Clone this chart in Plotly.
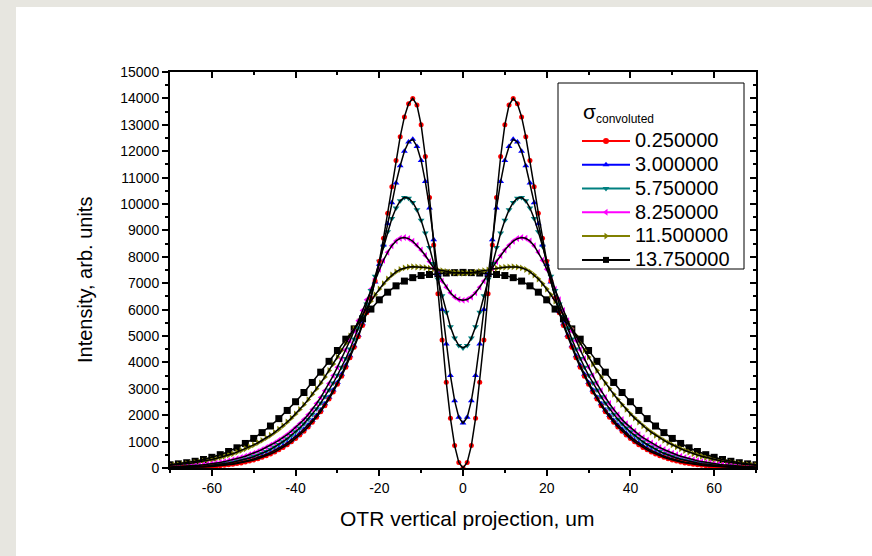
import plotly.graph_objects as go

# ---------------- data ----------------
X_FINE = list(range(-70, 71))        # 1 um grid
X_COARSE = list(range(-70, 71, 2))   # 2 um grid (sigma = 13.75 series)

SIGMA_LABELS = ["0.250000", "3.000000", "5.750000", "8.250000", "11.500000", "13.750000"]

# sigma = 0.25  (x = -70..-1 and x = 0..70)
RED_LEFT = [9, 11, 13, 16, 20, 25, 30, 36, 43, 51,
            61, 73, 87, 103, 121, 142, 166, 194, 226, 262,
            303, 350, 403, 463, 530, 605, 688, 780, 880, 990,
            1115, 1250, 1395, 1555, 1730, 1920, 2130, 2360, 2610, 2880,
            3170, 3480, 3820, 4180, 4570, 4970, 5400, 5880, 6430, 7080,
            7830, 8700, 9650, 10650, 11650, 12550, 13300, 13800, 14000, 13750,
            13000, 11800, 10250, 8450, 6600, 4850, 3250, 1880, 850, 210]
RED_RIGHT = [0, 210, 850, 1880, 3250, 4850, 6600, 8450, 10250, 11800,
             13000, 13750, 14000, 13800, 13300, 12550, 11650, 10650, 9650, 8700,
             7830, 7080, 6430, 5880, 5400, 4970, 4570, 4180, 3820, 3480,
             3170, 2880, 2610, 2360, 2130, 1920, 1730, 1555, 1395, 1250,
             1115, 990, 880, 780, 688, 605, 530, 463, 403, 350,
             303, 262, 226, 194, 166, 142, 121, 103, 87, 73,
             61, 51, 43, 36, 30, 25, 20, 16, 13, 11, 9]

# sigma = 3.0
BLUE_LEFT = [12, 14, 17, 21, 26, 31, 37, 44, 52, 62,
             74, 87, 102, 120, 140, 163, 190, 221, 256, 295,
             340, 390, 447, 510, 580, 658, 744, 838, 942, 1055,
             1180, 1315, 1465, 1625, 1800, 1990, 2200, 2430, 2680, 2950,
             3240, 3550, 3890, 4250, 4630, 5030, 5460, 5930, 6460, 7050,
             7720, 8450, 9250, 10050, 10800, 11450, 12000, 12350, 12450, 12180,
             11650, 10850, 9850, 8650, 7350, 6000, 4700, 3500, 2550, 1920]
BLUE_RIGHT = [1700, 1920, 2550, 3500, 4700, 6000, 7350, 8650, 9850, 10850,
              11650, 12180, 12450, 12350, 12000, 11450, 10800, 10050, 9250, 8450,
              7720, 7050, 6460, 5930, 5460, 5030, 4630, 4250, 3890, 3550,
              3240, 2950, 2680, 2430, 2200, 1990, 1800, 1625, 1465, 1315,
              1180, 1055, 942, 838, 744, 658, 580, 510, 447, 390,
              340, 295, 256, 221, 190, 163, 140, 120, 102, 87,
              74, 62, 52, 44, 37, 31, 26, 21, 17, 14, 12]

# sigma = 5.75
TEAL_LEFT = [18, 22, 26, 31, 37, 44, 52, 62, 73, 86,
             101, 119, 139, 162, 188, 218, 251, 289, 331, 379,
             432, 491, 556, 628, 707, 795, 890, 995, 1110, 1235,
             1370, 1515, 1675, 1850, 2040, 2240, 2460, 2700, 2950, 3220,
             3510, 3820, 4150, 4510, 4890, 5300, 5740, 6210, 6720, 7260,
             7830, 8400, 8950, 9450, 9850, 10120, 10250, 10220, 10060, 9780,
             9380, 8900, 8350, 7750, 7150, 6520, 5900, 5350, 4920, 4640]
TEAL_RIGHT = [4550, 4640, 4920, 5350, 5900, 6520, 7150, 7750, 8350, 8900,
              9380, 9780, 10060, 10220, 10250, 10120, 9850, 9450, 8950, 8400,
              7830, 7260, 6720, 6210, 5740, 5300, 4890, 4510, 4150, 3820,
              3510, 3220, 2950, 2700, 2460, 2240, 2040, 1850, 1675, 1515,
              1370, 1235, 1110, 995, 890, 795, 707, 628, 556, 491,
              432, 379, 331, 289, 251, 218, 188, 162, 139, 119,
              101, 86, 73, 62, 52, 44, 37, 31, 26, 22, 18]

# sigma = 8.25
MAGENTA_LEFT = [39, 45, 52, 60, 69, 80, 93, 107, 123, 141,
                162, 186, 212, 242, 275, 311, 352, 397, 447, 502,
                562, 628, 700, 775, 860, 950, 1050, 1150, 1265, 1390,
                1530, 1680, 1840, 2020, 2220, 2440, 2670, 2930, 3200, 3500,
                3820, 4140, 4480, 4830, 5200, 5580, 5970, 6370, 6770, 7160,
                7530, 7870, 8170, 8420, 8600, 8700, 8730, 8690, 8590, 8440,
                8260, 8050, 7820, 7580, 7330, 7080, 6850, 6640, 6480, 6380]
MAGENTA_RIGHT = [6350, 6380, 6480, 6640, 6850, 7080, 7330, 7580, 7820, 8050,
                 8260, 8440, 8590, 8690, 8730, 8700, 8600, 8420, 8170, 7870,
                 7530, 7160, 6770, 6370, 5970, 5580, 5200, 4830, 4480, 4140,
                 3820, 3500, 3200, 2930, 2670, 2440, 2220, 2020, 1840, 1680,
                 1530, 1390, 1265, 1150, 1050, 950, 860, 775, 700, 628,
                 562, 502, 447, 397, 352, 311, 275, 242, 212, 186,
                 162, 141, 123, 107, 93, 80, 69, 60, 52, 45, 39]

# sigma = 11.5
OLIVE_LEFT = [100, 113, 128, 144, 162, 183, 206, 231, 259, 290,
              323, 360, 400, 443, 490, 540, 600, 665, 730, 800,
              875, 957, 1045, 1140, 1240, 1350, 1470, 1600, 1740, 1890,
              2050, 2220, 2400, 2590, 2790, 3000, 3220, 3450, 3690, 3940,
              4200, 4460, 4730, 5000, 5270, 5540, 5810, 6070, 6320, 6560,
              6780, 6980, 7160, 7310, 7430, 7520, 7580, 7610, 7620, 7615,
              7605, 7590, 7565, 7535, 7505, 7475, 7445, 7420, 7400, 7385]
OLIVE_RIGHT = [7380, 7385, 7400, 7420, 7445, 7475, 7505, 7535, 7565, 7590,
               7605, 7615, 7620, 7610, 7580, 7520, 7430, 7310, 7160, 6980,
               6780, 6560, 6320, 6070, 5810, 5540, 5270, 5000, 4730, 4460,
               4200, 3940, 3690, 3450, 3220, 3000, 2790, 2590, 2400, 2220,
               2050, 1890, 1740, 1600, 1470, 1350, 1240, 1140, 1045, 957,
               875, 800, 730, 665, 600, 540, 490, 443, 400, 360,
               323, 290, 259, 231, 206, 183, 162, 144, 128, 113, 100]

# sigma = 13.75 (2 um grid: x = -70..-2 and x = 0..70)
BLACK_LEFT = [122, 157, 200, 255, 322, 405, 505, 625, 765, 930,
              1120, 1340, 1590, 1870, 2180, 2510, 2860, 3240, 3630, 4040,
              4450, 4880, 5270, 5650, 6020, 6370, 6660, 6900, 7080, 7210,
              7290, 7330, 7360, 7385, 7400]
BLACK_RIGHT = [7410, 7400, 7385, 7360, 7330, 7290, 7210, 7080, 6900, 6660,
               6370, 6020, 5650, 5270, 4880, 4450, 4040, 3630, 3240, 2860,
               2510, 2180, 1870, 1590, 1340, 1120, 930, 765, 625, 505,
               405, 322, 255, 200, 157, 122]

X_TICKS = [-60, -40, -20, 0, 20, 40, 60]
X_TICK_TEXT = ["-60", "-40", "-20", "0", "20", "40", "60"]

# ---------------- styling ----------------
COLORS = ["#ff0000", "#0000ff", "#008080", "#ff00ff", "#808000", "#000000"]
SYMBOLS = ["circle", "triangle-up", "triangle-down", "triangle-left", "triangle-right", "square"]
MSIZES = [5, 6, 6, 6, 6, 7]
FONT = "Liberation Sans, Arial, sans-serif"

series = [
    (X_FINE, RED_LEFT + RED_RIGHT),
    (X_FINE, BLUE_LEFT + BLUE_RIGHT),
    (X_FINE, TEAL_LEFT + TEAL_RIGHT),
    (X_FINE, MAGENTA_LEFT + MAGENTA_RIGHT),
    (X_FINE, OLIVE_LEFT + OLIVE_RIGHT),
    (X_COARSE, BLACK_LEFT + BLACK_RIGHT),
]
for xs, ys in series:
    assert len(xs) == len(ys)

fig = go.Figure()

# markers (black series at the bottom, red on top)
for i in reversed(range(len(series))):
    xs, ys = series[i]
    fig.add_trace(go.Scatter(
        x=xs, y=ys, mode="markers", showlegend=False, hoverinfo="skip",
        marker=dict(symbol=SYMBOLS[i], size=MSIZES[i], color=COLORS[i], line=dict(width=0)),
    ))
# black connecting lines drawn on top of the markers
for i in reversed(range(len(series))):
    xs, ys = series[i]
    fig.add_trace(go.Scatter(
        x=xs, y=ys, mode="lines", showlegend=False, hoverinfo="skip",
        line=dict(color="black", width=1.5),
    ))
# legend entries
for i, lab in enumerate(SIGMA_LABELS):
    fig.add_trace(go.Scatter(
        x=[None], y=[None], mode="lines+markers",
        name="<span style='font-size:20px'>" + lab + "</span>",
        line=dict(color=COLORS[i], width=2),
        marker=dict(symbol=SYMBOLS[i], size=6, color=COLORS[i]),
    ))
# carrier for the mirrored top/right axes
fig.add_trace(go.Scatter(x=[None], y=[None], xaxis="x2", yaxis="y2",
                         showlegend=False, hoverinfo="skip"))

tickfont = dict(family=FONT, size=14, color="black")
common = dict(showline=True, linecolor="black", linewidth=2, showgrid=False,
              zeroline=False, tickcolor="black", tickwidth=2, ticklen=6)

PX_L, PX_R, PX_T, PX_B = 170, 756, 72, 468
W, H = PX_R - PX_L, PX_B - PX_T


def px_x(p):
    return (p - PX_L) / W


def px_y(p):
    return (PX_B - p) / H


fig.update_layout(
    width=872, height=556, autosize=False,
    margin=dict(l=PX_L, r=872 - PX_R, t=PX_T, b=556 - PX_B),
    paper_bgcolor="#e7e6e0", plot_bgcolor="white",
    font=dict(family=FONT, color="black"),
    xaxis=dict(range=[-70, 70], tickmode="array", tickvals=X_TICKS, ticktext=X_TICK_TEXT,
               ticks="outside", tickfont=tickfont,
               minor=dict(dtick=10, tick0=0, ticks="outside", ticklen=3, tickwidth=1.5,
                          tickcolor="black", showgrid=False),
               **common),
    yaxis=dict(range=[0, 15000], dtick=1000, tick0=0, tickformat="d", ticks="outside",
               tickfont=tickfont,
               minor=dict(dtick=500, tick0=0, ticks="outside", ticklen=3, tickwidth=1.5,
                          tickcolor="black", showgrid=False),
               **common),
    xaxis2=dict(range=[-70, 70], overlaying="x", side="top", anchor="y", ticks="inside",
                tickmode="array", tickvals=X_TICKS, showticklabels=False,
                minor=dict(dtick=10, tick0=0, ticks="inside", ticklen=3, tickwidth=1.5,
                           tickcolor="black", showgrid=False),
                **common),
    yaxis2=dict(range=[0, 15000], overlaying="y", side="right", anchor="x", ticks="inside",
                dtick=1000, tick0=0, showticklabels=False,
                minor=dict(dtick=500, tick0=0, ticks="inside", ticklen=3, tickwidth=1.5,
                           tickcolor="black", showgrid=False),
                **common),
    legend=dict(x=px_x(577), y=px_y(124), xanchor="left", yanchor="top",
                bgcolor="rgba(0,0,0,0)", borderwidth=0,
                font=dict(family=FONT, size=16, color="black"),
                itemwidth=48, tracegroupgap=0),
    shapes=[
        dict(type="rect", xref="paper", yref="paper", layer="below",
             x0=px_x(16), x1=1.4, y0=-0.5, y1=px_y(7),
             fillcolor="white", line=dict(width=0)),
        dict(type="rect", xref="paper", yref="paper", layer="below",
             x0=px_x(558), x1=px_x(744), y0=px_y(269), y1=px_y(83),
             fillcolor="white", line=dict(color="black", width=1)),
    ],
    annotations=[
        dict(text="<span style='font-size:21px'>σ</span>"
                  "<sub><span style='font-size:12px'>convoluted</span></sub>",
             xref="paper", yref="paper", x=px_x(581), y=px_y(113),
             xanchor="left", yanchor="middle", showarrow=False,
             font=dict(family=FONT, size=21, color="black")),
        dict(text="OTR vertical projection, um", xref="paper", yref="paper",
             x=px_x(467.5), y=px_y(518), xanchor="center", yanchor="middle",
             showarrow=False, font=dict(family=FONT, size=21, color="black")),
        dict(text="Intensity, arb. units", xref="paper", yref="paper", textangle=-90,
             x=px_x(85), y=px_y(280), xanchor="center", yanchor="middle",
             showarrow=False, font=dict(family=FONT, size=20, color="black")),
    ],
)

fig.write_html("out.html")
